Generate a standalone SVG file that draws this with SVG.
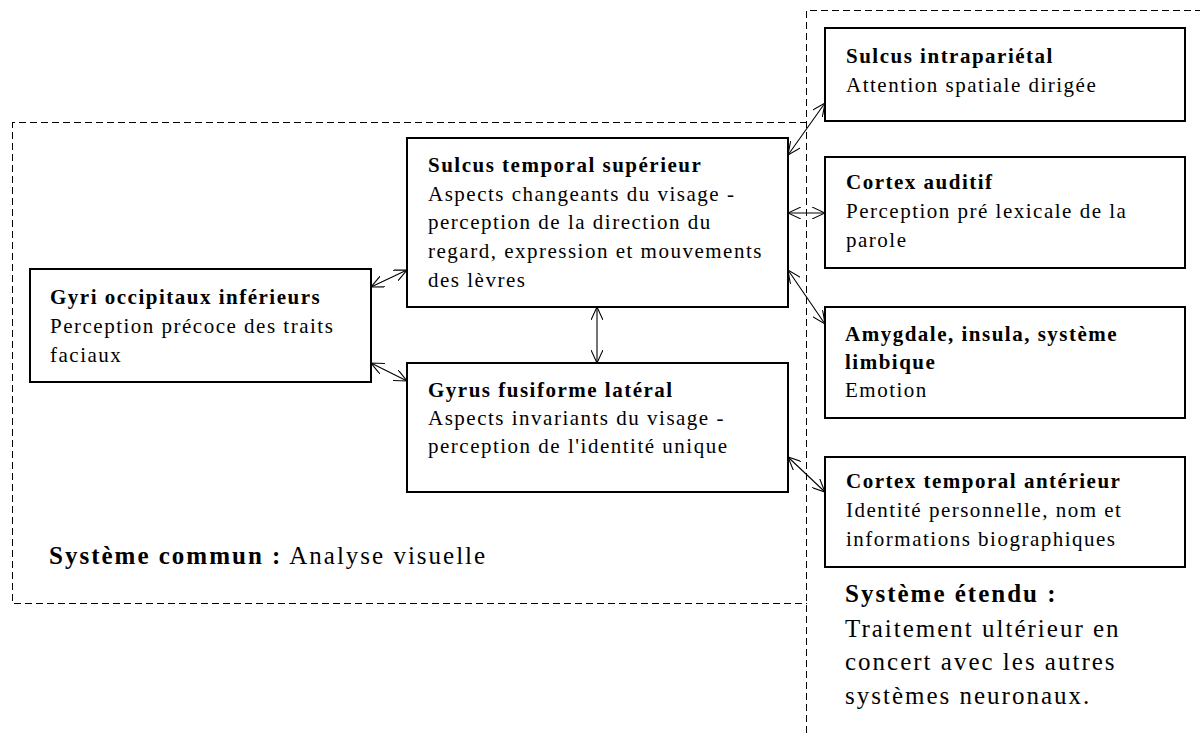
<svg xmlns="http://www.w3.org/2000/svg" width="1200" height="733" viewBox="0 0 1200 733">
<defs>
<style>
.box{fill:#fff;stroke:#000;stroke-width:2;shape-rendering:crispEdges}
.dash{fill:none;stroke:#000;stroke-width:1;stroke-dasharray:7,4;shape-rendering:crispEdges}
.t{font-family:"Liberation Serif","Times New Roman",serif;font-size:21px;letter-spacing:1.5px;fill:#000}
.b{font-weight:bold}
.big{font-family:"Liberation Serif","Times New Roman",serif;font-size:25px;letter-spacing:2px;fill:#000}
.c{fill:none;stroke:#000;stroke-width:1.1;marker-start:url(#ah);marker-end:url(#ah)}
</style>
<marker id="ah" viewBox="0 0 13 12" refX="13" refY="6" markerWidth="13" markerHeight="12" markerUnits="userSpaceOnUse" orient="auto-start-reverse">
<path d="M0,0 L13,6 L0,12" fill="none" stroke="#000" stroke-width="1.1"/>
</marker>
</defs>
<rect width="1200" height="733" fill="#fff"/>
<g id="systems">
<path class="dash" d="M806.5,122.5 H12.5 V603.5 H806.5"/>
<path class="dash" d="M806.5,733 V10.5 H1200"/>
</g>
<g id="connectors">
<line class="c" x1="371" y1="287" x2="407" y2="270"/>
<line class="c" x1="371" y1="363" x2="407" y2="381"/>
<line class="c" x1="597" y1="307" x2="597" y2="363"/>
<line class="c" x1="788" y1="155" x2="825" y2="103"/>
<line class="c" x1="788" y1="213" x2="825" y2="213"/>
<line class="c" x1="788" y1="270" x2="825" y2="324"/>
<line class="c" x1="788" y1="457" x2="825" y2="492"/>
</g>
<g id="gyri">
<rect class="box" x="30" y="269" width="341" height="113"/>
<text class="t b" x="50" y="304">Gyri occipitaux inférieurs</text>
<text class="t" x="50" y="333">Perception précoce des traits</text>
<text class="t" x="50" y="362">faciaux</text>
</g>
<g id="sts">
<rect class="box" x="407" y="138" width="381" height="169"/>
<text class="t b" x="428" y="172">Sulcus temporal supérieur</text>
<text class="t" x="428" y="201">Aspects changeants du visage -</text>
<text class="t" x="428" y="229">perception de la direction du</text>
<text class="t" x="428" y="258">regard, expression et mouvements</text>
<text class="t" x="428" y="287">des lèvres</text>
</g>
<g id="gfl">
<rect class="box" x="407" y="363" width="381" height="129"/>
<text class="t b" x="428" y="397">Gyrus fusiforme latéral</text>
<text class="t" x="428" y="425">Aspects invariants du visage -</text>
<text class="t" x="428" y="453">perception de l'identité unique</text>
</g>
<g id="sip">
<rect class="box" x="825" y="28" width="360" height="93"/>
<text class="t b" x="846" y="63">Sulcus intrapariétal</text>
<text class="t" x="846" y="92">Attention spatiale dirigée</text>
</g>
<g id="ca">
<rect class="box" x="825" y="157" width="360" height="111"/>
<text class="t b" x="846" y="189">Cortex auditif</text>
<text class="t" x="846" y="218">Perception pré lexicale de la</text>
<text class="t" x="846" y="247">parole</text>
</g>
<g id="amy">
<rect class="box" x="825" y="307" width="360" height="111"/>
<text class="t b" x="845" y="341">Amygdale, insula, système</text>
<text class="t b" x="845" y="369">limbique</text>
<text class="t" x="845" y="397">Emotion</text>
</g>
<g id="cta">
<rect class="box" x="825" y="457" width="360" height="110"/>
<text class="t b" x="846" y="488">Cortex temporal antérieur</text>
<text class="t" x="846" y="517">Identité personnelle, nom et</text>
<text class="t" x="846" y="546">informations biographiques</text>
</g>
<g id="labels">
<text class="big" x="49" y="564"><tspan font-weight="bold">Système commun :</tspan> Analyse visuelle</text>
<text class="big b" x="845" y="602">Système étendu :</text>
<text class="big" x="845" y="637">Traitement ultérieur en</text>
<text class="big" x="845" y="670">concert avec les autres</text>
<text class="big" x="845" y="704">systèmes neuronaux.</text>
</g>
</svg>
